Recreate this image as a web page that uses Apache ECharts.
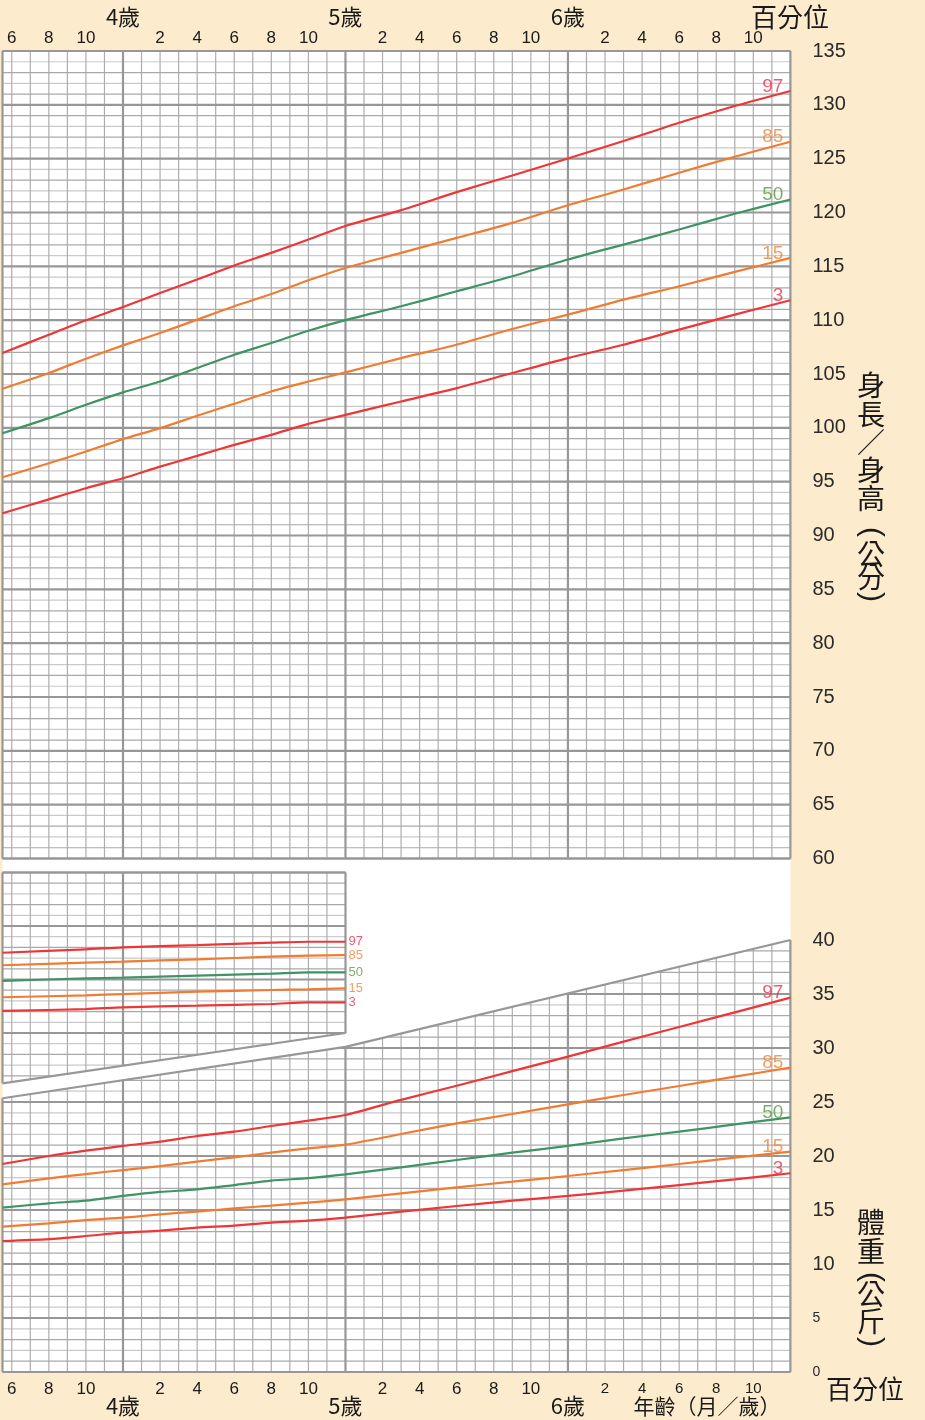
<!DOCTYPE html>
<html>
<head>
<meta charset="utf-8">
<script src="https://cdn.jsdelivr.net/npm/echarts@6/dist/echarts.min.js"></script>
<style>
html,body{margin:0;padding:0;background:#fdebcd;}
#c{width:925px;height:1420px;}
</style>
</head>
<body>
<div id="c"></div>
<script>
// ---------- data ----------
const months = [41.5,44,46,48,50,52,54,56,58,60,63,66,69,72,75,78,81,84];
const percentiles = ['97','85','50','15','3'];

const height97 = [106.95,108.65,109.99,111.22,112.53,113.77,115.07,116.25,117.49,118.75,120.22,121.89,123.44,125.02,126.64,128.34,129.89,131.29];
const height85 = [103.63,105.09,106.42,107.66,108.81,110.05,111.29,112.43,113.70,114.85,116.25,117.64,119.04,120.68,122.14,123.69,125.18,126.57];
const height50 = [99.50,100.90,102.14,103.29,104.31,105.55,106.79,107.88,109.02,110.00,111.29,112.68,114.08,115.63,117.02,118.42,119.88,121.21];
const height15 = [95.41,96.71,97.80,98.95,99.97,101.12,102.23,103.38,104.30,105.15,106.48,107.72,109.18,110.51,111.91,113.15,114.48,115.78];
const height3  = [92.06,93.36,94.39,95.32,96.40,97.40,98.42,99.35,100.37,101.20,102.45,103.69,105.09,106.48,107.72,109.12,110.51,111.85];

const weight97 = [19.26,20.00,20.49,20.93,21.33,21.85,22.25,22.78,23.27,23.80,25.20,26.50,27.86,29.20,30.59,31.95,33.30,34.66];
const weight85 = [17.38,17.93,18.33,18.70,19.07,19.48,19.88,20.31,20.71,21.05,22.04,23.02,23.89,24.78,25.65,26.48,27.35,28.18];
const weight50 = [15.22,15.62,15.86,16.30,16.67,16.91,17.31,17.72,17.95,18.30,18.95,19.63,20.31,20.93,21.64,22.25,22.93,23.58];
const weight15 = [13.46,13.77,14.07,14.29,14.60,14.85,15.15,15.40,15.68,15.99,16.54,17.10,17.62,18.15,18.70,19.26,19.85,20.40];
const weight3  = [12.13,12.31,12.59,12.90,13.09,13.36,13.55,13.83,14.01,14.30,14.85,15.37,15.86,16.30,16.79,17.31,17.84,18.40];

const insetMonths = [41.5,46,48,52,56,58,60];
const inset97 = [52.50,52.82,53.00,53.22,53.44,53.53,53.53];
const inset85 = [51.33,51.57,51.67,51.89,52.13,52.23,52.29];
const inset50 = [49.86,50.11,50.17,50.36,50.54,50.67,50.67];
const inset15 = [48.34,48.52,48.64,48.86,49.02,49.08,49.18];
const inset3  = [47.06,47.24,47.40,47.55,47.71,47.87,47.87];

// slanted grid edges
const weightTopMonths = [41.5,60,84];
const weightTopValues = [25.35,30.1,40];
const insetBottomMonths = [41.5,60];
const insetBottomValues = [40.3,45];

// tick labels and titles
const monthTicks = [42,44,46,50,52,54,56,58,62,64,66,68,70,74,76,78,80,82];
const yearTicks = [48,60,72];
const heightTitle = ['身','長','／','身','高','(','公','分',')'];
const weightTitle = ['體','重','(','公','斤',')'];

// ---------- styles ----------
const lineColor = {'97':'#ee3636','85':'#f27b32','50':'#3f9465','15':'#f27b32','3':'#ee3636'};
const labelColor = {'97':'#e8344f','85':'#f0863a','50':'#5a9a3e','15':'#f0863a','3':'#e8344f'};
const CJK = '"Noto Sans CJK TC","Noto Sans CJK JP",sans-serif';
const NUM = '"Liberation Sans",Arial,sans-serif';

const X0 = 41.5, X1 = 84;
const zip = (xs, ys) => xs.map((x, i) => [x, ys[i]]);

function polyAt(poly, m) {
  for (let i = 0; i < poly.length - 1; i++) {
    const a = poly[i], b = poly[i+1];
    if (m <= b[0] + 1e-9) return a[1] + (b[1]-a[1]) * (m - a[0]) / (b[0] - a[0]);
  }
  return poly[poly.length-1][1];
}
function invGE(poly, v) {
  if (v <= poly[0][1] + 1e-9) return poly[0][0];
  if (v > poly[poly.length-1][1] + 1e-9) return null;
  for (let i = 0; i < poly.length - 1; i++) {
    const a = poly[i], b = poly[i+1];
    if (v <= b[1] + 1e-9) return a[0] + (b[0]-a[0]) * (v - a[1]) / (b[1] - a[1]);
  }
  return null;
}
function invLE(poly, v) {
  if (v < poly[0][1] - 1e-9) return null;
  if (v >= poly[poly.length-1][1] - 1e-9) return poly[poly.length-1][0];
  for (let i = 0; i < poly.length - 1; i++) {
    const a = poly[i], b = poly[i+1];
    if (v <= b[1]) return a[0] + (b[0]-a[0]) * (v - a[1]) / (b[1] - a[1]);
  }
  return null;
}

const ST_LIGHT = {stroke:'#cacaca', lineWidth:1.2};
const ST_DARK  = {stroke:'#a9a9a9', lineWidth:1.2};
const ST_VERT  = {stroke:'#adadad', lineWidth:1.2};
const ST_MAJOR = {stroke:'#979797', lineWidth:2.2};

function gridSeries(xi, yi, spec) {
  return {
    type:'custom', xAxisIndex:xi, yAxisIndex:yi, z:1, silent:true,
    data:[[spec.xMin, spec.yMin]],
    renderItem(params, api) {
      const light=[], dark=[], vert=[], major=[];
      const seg = (arr, a, b) => {
        const p = api.coord(a), q = api.coord(b);
        arr.push({type:'line', shape:{x1:p[0],y1:p[1],x2:q[0],y2:q[1]}});
      };
      const ms = [spec.xMin];
      for (let m = Math.ceil(spec.xMin); m <= spec.xMax; m++) if (m > spec.xMin) ms.push(m);
      ms.forEach(m => {
        const lo = Math.max(spec.yMin, polyAt(spec.lower, m));
        const hi = Math.min(spec.yMax, polyAt(spec.upper, m));
        if (hi <= lo) return;
        const isMajor = (m % 12 === 0) || m === spec.xMin || m === spec.xMax;
        seg(isMajor ? major : vert, [m, lo], [m, hi]);
      });
      for (let v = spec.yMin; v <= spec.yMax; v++) {
        const a = invGE(spec.upper, v), b = invLE(spec.lower, v);
        if (a === null || b === null || b - a < 1e-6) continue;
        const arr = (v % 5 === 0) ? major : (v % 2 === 1 ? dark : light);
        seg(arr, [a, v], [b, v]);
      }
      const mk = (arr, st) => arr.map(e => Object.assign(e, {style: st}));
      const edges = [spec.upper, spec.lower].map(poly => ({
        type:'polyline', shape:{points: poly.map(p => api.coord(p))},
        style:{stroke:ST_MAJOR.stroke, lineWidth:ST_MAJOR.lineWidth, fill:null}
      }));
      return {type:'group', children:[].concat(mk(light,ST_LIGHT), mk(vert,ST_VERT), mk(dark,ST_DARK), mk(major,ST_MAJOR), edges)};
    }
  };
}

function curve(name, xi, yi, xs, ys) {
  return {
    type:'line', name, xAxisIndex:xi, yAxisIndex:yi, z:5, silent:true,
    data: zip(xs, ys), symbol:'none', smooth:0.25,
    lineStyle:{color:lineColor[name], width:2.2}
  };
}

function endLabels(xi, yi, xs, sets, big) {
  return {
    type:'scatter', xAxisIndex:xi, yAxisIndex:yi, z:6, silent:true,
    symbolSize:0,
    data: percentiles.map((p, i) => ({
      value:[xs[xs.length-1], sets[i][sets[i].length-1]],
      label:{formatter:p, color:labelColor[p]}
    })),
    label: big ? {
      show:true, position:'top', align:'right', distance:0, offset:[-7, 5],
      fontFamily:NUM, fontSize:19
    } : {
      show:true, position:'right', distance:3,
      fontFamily:NUM, fontSize:13
    }
  };
}

const heightSets = [height97,height85,height50,height15,height3];
const weightSets = [weight97,weight85,weight50,weight15,weight3];
const insetSets = [inset97,inset85,inset50,inset15,inset3];

const hiddenAxis = {axisLine:{show:false}, axisTick:{show:false}, splitLine:{show:false}};

const graphics = [
  {type:'rect', z:-5, shape:{x:2.5, y:50, width:788, height:1322}, style:{fill:'#ffffff'}},
  {type:'text', z:10, x:790, y:17, style:{text:'百分位', font:'26px '+CJK, fill:'#1a1a1a', align:'center', verticalAlign:'middle'}},
  {type:'text', z:10, x:826, y:1389, style:{text:'百分位', font:'26px '+CJK, fill:'#1a1a1a', align:'left', verticalAlign:'middle'}},
  {type:'text', z:10, x:707, y:1406, style:{text:'年齡（月／歲）', font:'21px '+CJK, fill:'#1a1a1a', align:'center', verticalAlign:'middle'}}
];
function addTitle(chars, ys) {
  chars.forEach((ch, i) => {
    const paren = (ch === '(' || ch === ')');
    graphics.push({type:'text', z:10, x:871, y:ys[i], rotation: paren ? -Math.PI/2 : 0,
      style:{text:ch, font: paren ? '30px ' + NUM : '28px ' + CJK, fill:'#1a1a1a', align:'center', verticalAlign:'middle'}});
  });
}
addTitle(heightTitle, [385,414,442,470,498,532,554,577,597]);
addTitle(weightTitle, [1222,1251,1277,1294,1321,1342]);

const option = {
  backgroundColor:'#fdebcd',
  animation:false,
  grid:[
    {left:2.5, top:51, width:787.9, height:807.5},
    {left:2.5, top:940, width:787.9, height:432},
    {left:2.5, top:872.5, width:343, height:214}
  ],
  xAxis:[
    Object.assign({type:'value', gridIndex:0, min:X0, max:X1, position:'top',
      axisLabel:{customValues:monthTicks, formatter:v => String(v % 12), margin:4,
        fontFamily:NUM, fontSize:17, color:'#1a1a1a'}}, hiddenAxis),
    Object.assign({type:'value', gridIndex:0, min:X0, max:X1, position:'top',
      axisLabel:{customValues:yearTicks, formatter:v => (v/12) + '歲', margin:23,
        fontFamily:CJK, fontSize:22, color:'#1a1a1a'}}, hiddenAxis),
    Object.assign({type:'value', gridIndex:1, min:X0, max:X1, position:'bottom',
      axisLabel:{customValues:monthTicks, margin:9,
        formatter:v => v > 72 ? '{s|' + (v % 12) + '}' : String(v % 12),
        rich:{s:{fontFamily:NUM, fontSize:15, color:'#1a1a1a'}},
        fontFamily:NUM, fontSize:17, color:'#1a1a1a'}}, hiddenAxis),
    Object.assign({type:'value', gridIndex:1, min:X0, max:X1, position:'bottom',
      axisLabel:{customValues:yearTicks, formatter:v => (v/12) + '歲', margin:23,
        fontFamily:CJK, fontSize:22, color:'#1a1a1a'}}, hiddenAxis),
    {type:'value', gridIndex:2, min:X0, max:60, show:false}
  ],
  yAxis:[
    Object.assign({type:'value', gridIndex:0, min:60, max:135, interval:5, position:'right',
      axisLabel:{margin:22, fontFamily:NUM, fontSize:20, color:'#2a2a2a'}}, hiddenAxis),
    Object.assign({type:'value', gridIndex:1, min:0, max:40, interval:5, position:'right',
      axisLabel:{margin:22, fontFamily:NUM, fontSize:20, color:'#2a2a2a',
        formatter:v => v <= 5 ? '{s|' + v + '}' : String(v),
        rich:{s:{fontFamily:NUM, fontSize:14, color:'#2a2a2a'}}}}, hiddenAxis),
    {type:'value', gridIndex:2, min:40, max:60, show:false}
  ],
  graphic:graphics,
  series:[
    gridSeries(0, 0, {xMin:X0, xMax:X1, yMin:60, yMax:135, lower:[[X0,60],[X1,60]], upper:[[X0,135],[X1,135]]}),
    gridSeries(2, 1, {xMin:X0, xMax:X1, yMin:0, yMax:40, lower:[[X0,0],[X1,0]], upper:zip(weightTopMonths, weightTopValues)}),
    gridSeries(4, 2, {xMin:X0, xMax:60, yMin:40, yMax:60, lower:zip(insetBottomMonths, insetBottomValues), upper:[[X0,60],[60,60]]}),
    ...percentiles.map((p, i) => curve(p, 0, 0, months, heightSets[i])),
    ...percentiles.map((p, i) => curve(p, 2, 1, months, weightSets[i])),
    ...percentiles.map((p, i) => curve(p, 4, 2, insetMonths, insetSets[i])),
    endLabels(0, 0, months, heightSets, true),
    endLabels(2, 1, months, weightSets, true),
    endLabels(4, 2, insetMonths, insetSets, false)
  ]
};

const chart = echarts.init(document.getElementById('c'), null, {renderer:'canvas'});
chart.setOption(option);
</script>
</body>
</html>
